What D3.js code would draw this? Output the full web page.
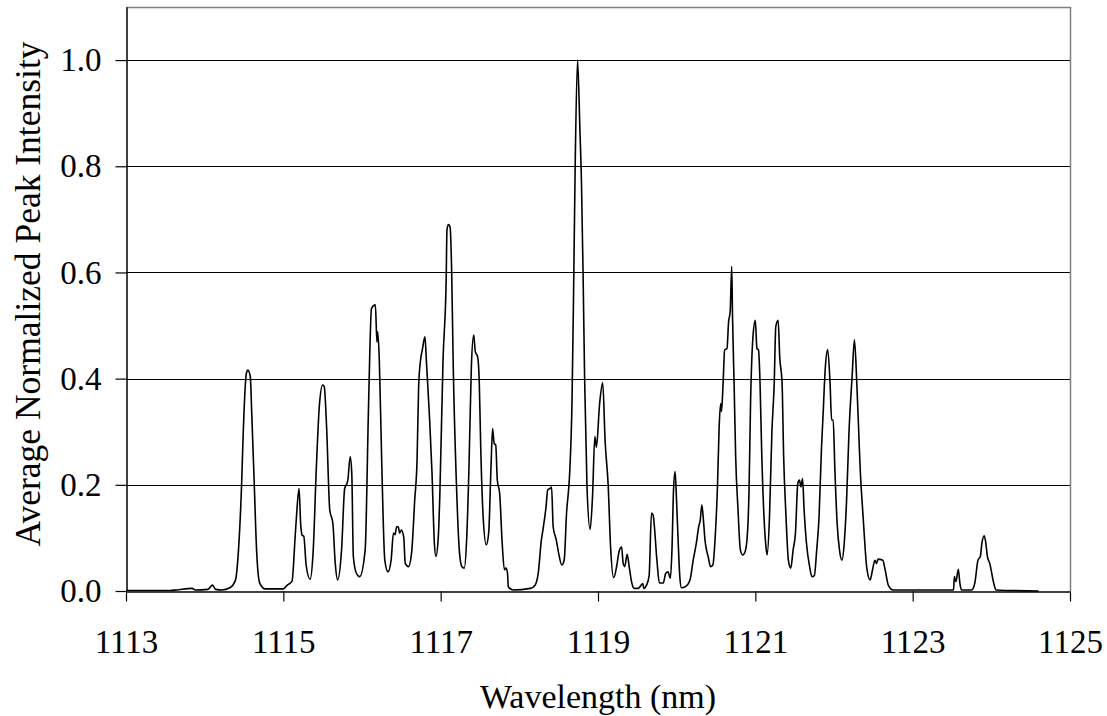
<!DOCTYPE html>
<html>
<head>
<meta charset="utf-8">
<script src="https://cdn.jsdelivr.net/npm/d3@7/dist/d3.min.js"></script>
<style>
  html, body { margin: 0; padding: 0; background: #fff; }
  svg { display: block; }
  text { font-family: "Liberation Serif", "Times New Roman", serif; fill: #000; }
</style>
</head>
<body>
<svg id="chart" width="1107" height="716"></svg>
<script>
// Wavelength (nm)
const wavelength = [
  1113.00, 1113.56, 1113.64, 1113.84, 1113.88, 1114.04, 1114.10, 1114.14, 1114.22, 1114.32, 1114.39,
  1114.43, 1114.47, 1114.49, 1114.53, 1114.55, 1114.58, 1114.60, 1114.63, 1114.66, 1114.70,
  1114.77, 1115.00, 1115.05, 1115.11, 1115.15, 1115.17, 1115.20, 1115.22, 1115.24, 1115.26,
  1115.29, 1115.34, 1115.38, 1115.42, 1115.46, 1115.50, 1115.52, 1115.55, 1115.59, 1115.63,
  1115.66, 1115.69, 1115.74, 1115.78, 1115.81, 1115.82, 1115.85, 1115.87, 1115.89, 1115.93,
  1115.97, 1116.04, 1116.08, 1116.10, 1116.12, 1116.17, 1116.19, 1116.20, 1116.22, 1116.25,
  1116.29, 1116.33, 1116.37, 1116.40, 1116.42, 1116.44, 1116.46, 1116.48, 1116.50, 1116.53,
  1116.55, 1116.59, 1116.63, 1116.67, 1116.70, 1116.72, 1116.74, 1116.77, 1116.80, 1116.82,
  1116.86, 1116.89, 1116.92, 1116.94, 1116.97, 1116.99, 1117.03, 1117.07, 1117.08, 1117.10,
  1117.12, 1117.14, 1117.16, 1117.20, 1117.24, 1117.27, 1117.30, 1117.33, 1117.36, 1117.39,
  1117.42, 1117.44, 1117.47, 1117.49, 1117.51, 1117.54, 1117.58, 1117.61, 1117.64, 1117.66,
  1117.68, 1117.70, 1117.72, 1117.75, 1117.78, 1117.81, 1117.83, 1117.85, 1117.86, 1117.92,
  1118.14, 1118.20, 1118.24, 1118.28, 1118.30, 1118.34, 1118.36, 1118.39, 1118.41, 1118.43,
  1118.47, 1118.50, 1118.54, 1118.57, 1118.60, 1118.64, 1118.67, 1118.69, 1118.71, 1118.74,
  1118.77, 1118.79, 1118.81, 1118.83, 1118.86, 1118.90, 1118.93, 1118.96, 1118.98, 1119.02,
  1119.06, 1119.09, 1119.13, 1119.16, 1119.20, 1119.24, 1119.27, 1119.30, 1119.32, 1119.34,
  1119.37, 1119.40, 1119.43, 1119.46, 1119.51, 1119.57, 1119.58, 1119.62, 1119.65, 1119.68,
  1119.70, 1119.75, 1119.78, 1119.83, 1119.86, 1119.89, 1119.92, 1119.94, 1119.96, 1119.98,
  1120.00, 1120.02, 1120.04, 1120.06, 1120.11, 1120.17, 1120.21, 1120.25, 1120.28, 1120.30,
  1120.32, 1120.34, 1120.36, 1120.38, 1120.40, 1120.43, 1120.46, 1120.49, 1120.52, 1120.54,
  1120.56, 1120.57, 1120.59, 1120.61, 1120.64, 1120.66, 1120.68, 1120.70, 1120.71, 1120.73,
  1120.75, 1120.78, 1120.81, 1120.84, 1120.87, 1120.90, 1120.92, 1120.94, 1120.97, 1121.00,
  1121.02, 1121.04, 1121.06, 1121.08, 1121.11, 1121.14, 1121.15, 1121.18, 1121.21, 1121.24,
  1121.26, 1121.29, 1121.31, 1121.34, 1121.36, 1121.39, 1121.42, 1121.45, 1121.48, 1121.51,
  1121.54, 1121.56, 1121.58, 1121.60, 1121.62, 1121.65, 1121.69, 1121.72, 1121.75, 1121.78,
  1121.81, 1121.84, 1121.86, 1121.89, 1121.92, 1121.95, 1121.97, 1121.99, 1122.01, 1122.04,
  1122.07, 1122.10, 1122.13, 1122.16, 1122.19, 1122.23, 1122.26, 1122.29, 1122.32, 1122.33,
  1122.37, 1122.42, 1122.46, 1122.49, 1122.52, 1122.54, 1122.56, 1122.62, 1122.65, 1122.69,
  1122.75, 1123.52, 1123.53, 1123.55, 1123.58, 1123.60, 1123.62, 1123.75, 1123.79, 1123.83,
  1123.86, 1123.88, 1123.91, 1123.93, 1123.95, 1123.98, 1124.03, 1124.06, 1124.60
];
// Average normalized peak intensity
const intensity = [
  0.001, 0.001, 0.002, 0.005, 0.002, 0.003, 0.011, 0.003, 0.002, 0.006, 0.020,
  0.077, 0.203, 0.297, 0.410, 0.416, 0.404, 0.328, 0.203, 0.077, 0.015,
  0.004, 0.004, 0.011, 0.018, 0.102, 0.147, 0.193, 0.127, 0.105, 0.103,
  0.049, 0.022, 0.077, 0.234, 0.353, 0.388, 0.385, 0.309, 0.153, 0.127,
  0.052, 0.021, 0.077, 0.193, 0.203, 0.209, 0.253, 0.222, 0.065, 0.033,
  0.027, 0.077, 0.328, 0.454, 0.532, 0.539, 0.469, 0.488, 0.435, 0.247,
  0.058, 0.036, 0.058, 0.109, 0.106, 0.121, 0.121, 0.109, 0.115, 0.102,
  0.052, 0.046, 0.071, 0.171, 0.247, 0.385, 0.429, 0.457, 0.479, 0.429,
  0.322, 0.222, 0.090, 0.065, 0.102, 0.184, 0.435, 0.586, 0.680, 0.690,
  0.685, 0.600, 0.422, 0.203, 0.071, 0.046, 0.043, 0.096, 0.234, 0.422,
  0.482, 0.451, 0.441, 0.397, 0.266, 0.140, 0.087, 0.109, 0.234, 0.306,
  0.278, 0.275, 0.209, 0.184, 0.096, 0.040, 0.043, 0.033, 0.008, 0.002,
  0.005, 0.011, 0.033, 0.096, 0.115, 0.159, 0.190, 0.193, 0.196, 0.121,
  0.096, 0.071, 0.049, 0.058, 0.146, 0.222, 0.360, 0.567, 0.802, 1.000,
  0.869, 0.769, 0.601, 0.399, 0.197, 0.116, 0.177, 0.291, 0.271, 0.352,
  0.392, 0.284, 0.197, 0.083, 0.025, 0.049, 0.076, 0.083, 0.052, 0.046,
  0.069, 0.042, 0.015, 0.005, 0.005, 0.014, 0.005, 0.012, 0.029, 0.147,
  0.143, 0.056, 0.015, 0.015, 0.033, 0.036, 0.024, 0.077, 0.190, 0.225,
  0.165, 0.090, 0.027, 0.006, 0.008, 0.021, 0.058, 0.090, 0.121, 0.134,
  0.162, 0.134, 0.096, 0.077, 0.065, 0.046, 0.049, 0.102, 0.203, 0.309,
  0.353, 0.338, 0.391, 0.454, 0.457, 0.507, 0.526, 0.611, 0.517, 0.391,
  0.253, 0.153, 0.077, 0.068, 0.074, 0.109, 0.190, 0.360, 0.479, 0.510,
  0.457, 0.454, 0.391, 0.266, 0.140, 0.077, 0.068, 0.140, 0.297, 0.391,
  0.498, 0.510, 0.441, 0.391, 0.253, 0.140, 0.058, 0.043, 0.077, 0.109,
  0.203, 0.209, 0.196, 0.212, 0.153, 0.090, 0.046, 0.027, 0.029, 0.077,
  0.140, 0.266, 0.328, 0.422, 0.455, 0.391, 0.322, 0.322, 0.234, 0.127,
  0.077, 0.058, 0.090, 0.171, 0.297, 0.404, 0.473, 0.391, 0.278, 0.240,
  0.140, 0.040, 0.021, 0.040, 0.058, 0.052, 0.060, 0.058, 0.040, 0.011,
  0.002, 0.002, 0.027, 0.018, 0.041, 0.015, 0.002, 0.002, 0.015, 0.058,
  0.065, 0.090, 0.104, 0.090, 0.065, 0.052, 0.015, 0.002, 0.000
];
const xTicks = [1113, 1115, 1117, 1119, 1121, 1123, 1125];
const yTicks = [0.0, 0.2, 0.4, 0.6, 0.8, 1.0];
const xTitle = "Wavelength (nm)";
const yTitle = "Average Normalized Peak Intensity";

const svg = d3.select("#chart");
const W = 1107, H = 716;
const margin = {left: 126, top: 7, right: W - 1070, bottom: H - 591};
const x = d3.scaleLinear().domain([1113, 1125]).range([margin.left, W - margin.right]);
const y = d3.scaleLinear().domain([0, 1.1]).range([H - margin.bottom, margin.top]);

// gridlines
svg.append("g").selectAll("line").data(yTicks.filter(d => d > 0)).join("line")
  .attr("x1", x(1113)).attr("x2", x(1125))
  .attr("y1", d => Math.round(y(d)) + 0.5).attr("y2", d => Math.round(y(d)) + 0.5)
  .attr("stroke", "#000").attr("stroke-width", 1);

// top & right border
svg.append("path")
  .attr("d", `M${x(1113)},${Math.round(y(1.1)) + 0.5}H${Math.round(x(1125)) + 0.5}V${y(0)}`)
  .attr("fill", "none").attr("stroke", "#808080").attr("stroke-width", 1.5);

// spectrum
const pts = wavelength.map((w, i) => [w, intensity[i]]);
const line = d3.line().x(d => x(d[0])).y(d => y(d[1])).curve(d3.curveMonotoneX);
svg.append("path").datum(pts)
  .attr("d", line)
  .attr("fill", "none").attr("stroke", "#000").attr("stroke-width", 1.6)
  .attr("stroke-linejoin", "round");

// axes
const xAxis = d3.axisBottom(x).tickValues(xTicks).tickFormat(d3.format("d"))
  .tickSizeInner(10).tickSizeOuter(0).tickPadding(28);
const gx = svg.append("g").attr("transform", `translate(0,${Math.round(y(0)) + 0.5})`).call(xAxis);
gx.select(".domain").attr("stroke", "#000").attr("stroke-width", 1.5);
gx.selectAll(".tick line").attr("stroke", "#000").attr("stroke-width", 1.2);
gx.selectAll(".tick text").style("font-family", "'Liberation Serif', serif").style("font-size", "33px");

const yAxis = d3.axisLeft(y).tickValues(yTicks).tickFormat(d3.format(".1f"))
  .tickSizeInner(11).tickSizeOuter(0).tickPadding(14);
const gy = svg.append("g").attr("transform", `translate(${Math.round(x(1113)) + 0.5},0)`).call(yAxis);
gy.select(".domain").attr("stroke", "#000").attr("stroke-width", 1.5);
gy.selectAll(".tick line").attr("stroke", "#000").attr("stroke-width", 1.2);
gy.selectAll(".tick text").style("font-family", "'Liberation Serif', serif").style("font-size", "33px");

// titles
svg.append("text").attr("x", (x(1113) + x(1125)) / 2).attr("y", 708).attr("text-anchor", "middle")
  .style("font-size", "34px").text(xTitle);
svg.append("text").attr("transform", `translate(40,${294}) rotate(-90)`).attr("text-anchor", "middle")
  .style("font-size", "35.5px").text(yTitle);
</script>
</body>
</html>
